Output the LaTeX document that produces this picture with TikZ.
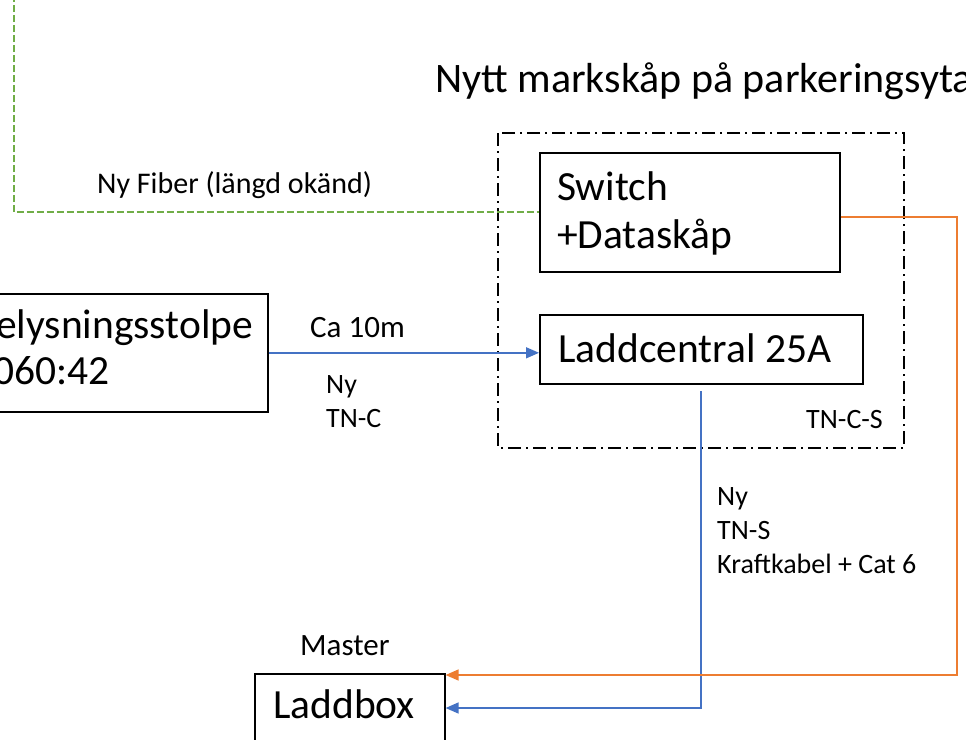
\documentclass[tikz,border=0pt]{standalone}
\usepackage{fontspec}
\setmainfont{Carlito}
\usetikzlibrary{arrows.meta}
\definecolor{cableblue}{HTML}{4472C4}
\definecolor{cableorange}{HTML}{ED7D31}
\definecolor{fibergreen}{HTML}{70AD47}
\begin{document}
\begin{tikzpicture}[x=1pt,y=-1pt,
  boxed/.style={draw=black,line width=1.6pt,inner sep=0pt,anchor=north west},
  cabinet/.style={draw=black,line width=2pt,dash pattern=on 13pt off 5pt on 2pt off 5pt},
  txt/.style={inner sep=0pt,anchor=base west},
  bigtxt/.style={txt,font=\fontsize{41.5}{48}\selectfont},
  titletxt/.style={txt,font=\fontsize{42}{50}\selectfont},
  midtxt/.style={txt,font=\fontsize{31}{38}\selectfont},
  smalltxt/.style={txt,font=\fontsize{28}{34}\selectfont},
  power/.style={draw=cableblue,line width=1.5pt},
  data/.style={draw=cableorange,line width=1.5pt},
  fiber/.style={draw=fibergreen,line width=2pt,dash pattern=on 7pt off 3pt},
  tip/.style={-{Triangle[length=13pt,width=11pt]}}
]
\useasboundingbox (0,0) rectangle (966,739);
\clip (0,0) rectangle (966,739);

% ground cabinet outline
\draw[cabinet] (498,133) rectangle (904,448);
\node[titletxt] (title) at (435,92) {Nytt markskåp på parkeringsyta};

% boxes
\node[boxed,minimum width=300pt,minimum height=119pt] (switch) at (539,152) {};
\node[boxed,minimum width=323pt,minimum height=69pt] (laddc) at (539,314) {};
\node[boxed,minimum width=290pt,minimum height=118pt] (pole) at (-23,293) {};
\node[boxed,minimum width=190pt,minimum height=100pt] (laddbox) at (254,673) {};

% box texts
\node[bigtxt] (switchA) at (557,200) {Switch};
\node[bigtxt] (switchB) at (557,248) {+Dataskåp};
\node[bigtxt] (laddcT) at (558,362) {Laddcentral 25A};
\node[bigtxt] (poleA) at (-4,338) {elysningsstolpe};
\node[bigtxt] (poleB) at (-7,384) {060:42};
\node[bigtxt] (laddboxT) at (273,718) {Laddbox};
\node[smalltxt] (tncs) at (806,428) {TN-C-S};

% fibre
\coordinate (fibtop) at (14,-5);
\draw[fiber] (fibtop) |- (switch.west);
\node[midtxt,font=\fontsize{30}{36}\selectfont] (fiblbl) at (97,193) {Ny Fiber (längd okänd)};

% supply from the pole
\draw[power,tip] (pole.east) -- (pole.east -| laddc.west);
\node[midtxt] (ca) at (310,337) {Ca 10m};
\node[smalltxt] (ny1) at (326,393) {Ny};
\node[smalltxt] (tnc) at (326,427) {TN-C};

% feed to the charger
\coordinate (bstart) at (701,391);
\coordinate (bcorner) at (701,708);
\draw[power,tip] (bstart) -- (bcorner) -- (bcorner -| laddbox.east);
\node[smalltxt] (ny2) at (717,505) {Ny};
\node[smalltxt] (tns) at (717,539) {TN-S};
\node[smalltxt] (kraft) at (717,573) {Kraftkabel + Cat 6};

% data link
\coordinate (ocorner) at (957,675);
\draw[data,tip] ([yshift=-4.5pt]switch.east) -| (ocorner) -- (ocorner -| laddbox.east);
\node[midtxt] (master) at (300,655) {Master};
\end{tikzpicture}
\end{document}
